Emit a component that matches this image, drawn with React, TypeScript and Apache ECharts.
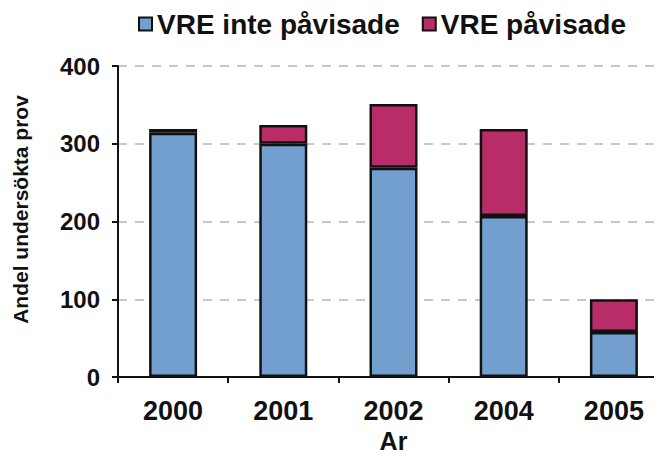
import React, { useEffect, useRef } from "react";
import * as echarts from "echarts";

const categories = ["2000", "2001", "2002", "2004", "2005"];
const notDetected = [314, 300, 269, 207, 58];
const detected = [5, 24, 82, 112, 42];
const yTicks = [0, 100, 200, 300, 400];
const seriesNames = ["VRE inte påvisade", "VRE påvisade"];

const FONT = 'Arial, "Liberation Sans", sans-serif';

export default function App() {
  const ref = useRef<HTMLDivElement>(null);
  useEffect(() => {
    if (!ref.current) return;
    const chart = echarts.init(ref.current, null, { renderer: "svg" });
    chart.setOption({
      animation: false,
      backgroundColor: "#ffffff",
      textStyle: { fontFamily: FONT },
      legend: {
        top: 2,
        left: 130,
        padding: 0,
        itemWidth: 13,
        itemHeight: 13,
        itemGap: 22,
        icon: "rect",
        textStyle: { fontSize: 28, fontWeight: "bold", color: "#111", fontFamily: FONT },
        data: seriesNames,
      },
      grid: {
        left: 110,
        right: -15,
        top: 58,
        bottom: 79,
        containLabel: false,
        outerBoundsMode: "none",
      },
      xAxis: {
        type: "category",
        data: categories,
        name: "Ar",
        nameLocation: "middle",
        nameGap: 50,
        nameTextStyle: { fontSize: 25, fontWeight: "bold", color: "#111", fontFamily: FONT },
        axisLine: { lineStyle: { color: "#111", width: 2 } },
        axisTick: { show: true, length: 6, lineStyle: { color: "#111", width: 2 } },
        axisLabel: { fontSize: 27, fontWeight: "bold", color: "#111", margin: 20, fontFamily: FONT },
      },
      yAxis: {
        type: "value",
        min: 0,
        max: 400,
        interval: 100,
        name: "Andel undersökta prov",
        nameLocation: "middle",
        nameGap: 87,
        nameRotate: 90,
        nameTextStyle: {
          fontSize: 21,
          fontWeight: "bold",
          color: "#111",
          fontFamily: FONT,
          padding: [0, 0, 0, 24],
        },
        axisLine: { show: true, lineStyle: { color: "#111", width: 2 } },
        axisTick: { show: true, length: 6, lineStyle: { color: "#111", width: 2 } },
        axisLabel: {
          fontSize: 24,
          fontWeight: "bold",
          color: "#111",
          margin: 18,
          fontFamily: FONT,
          formatter: (v: number) => (yTicks.includes(v) ? String(v) : ""),
        },
        splitLine: { show: true, lineStyle: { color: "#c8c8c8", width: 2, type: [9, 8] } },
      },
      series: [
        {
          name: seriesNames[0],
          type: "bar",
          stack: "total",
          data: notDetected,
          barWidth: 48,
          itemStyle: { color: "#739fcf", borderColor: "#111", borderWidth: 2.5 },
        },
        {
          name: seriesNames[1],
          type: "bar",
          stack: "total",
          data: detected,
          barWidth: 48,
          itemStyle: { color: "#b82c68", borderColor: "#111", borderWidth: 2.5 },
        },
      ],
    });
    return () => chart.dispose();
  }, []);
  return <div ref={ref} style={{ width: 646, height: 448 }} />;
}
